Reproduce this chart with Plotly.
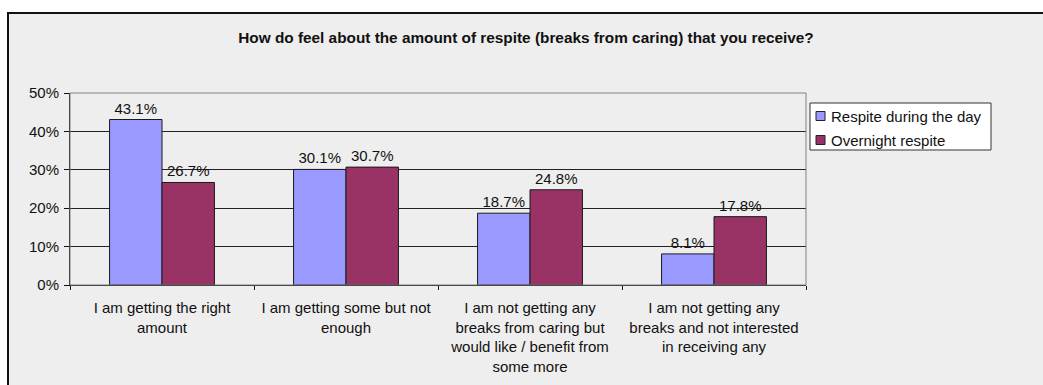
import plotly.graph_objects as go

# Survey answers (x categories) and the two respite series, in percent
categories = [
    "I am getting the right<br>amount",
    "I am getting some but not<br>enough",
    "I am not getting any<br>breaks from caring but<br>would like / benefit from<br>some more",
    "I am not getting any<br>breaks and not interested<br>in receiving any",
]
day_respite = [43.1, 30.1, 18.7, 8.1]
overnight_respite = [26.7, 30.7, 24.8, 17.8]
series_names = ["Respite during the day", "Overnight respite"]
y_ticks = [0, 10, 20, 30, 40, 50]
y_tick_labels = ["0%", "10%", "20%", "30%", "40%", "50%"]
title_text = "How do feel about the amount of respite (breaks from caring) that you receive?"

FONT = "Liberation Sans, Arial, sans-serif"
BLUE = "#9999FF"
PLUM = "#993366"
series_colors = [BLUE, PLUM]

W, H = 1043, 385
L, R, T, B = 70, 237, 93, 100
pw, ph = W - L - R, H - T - B


def px_x(x):
    return (x - L) / pw


def px_y(y):
    return 1 - (y - T) / ph


fig = go.Figure()

for name, vals, col in zip(series_names, [day_respite, overnight_respite], series_colors):
    fig.add_trace(go.Bar(
        x=categories, y=vals, name=name,
        marker=dict(color=col, line=dict(color="#1a1a1a", width=1)),
        texttemplate="%{y:.1f}%", textposition="outside",
        textfont=dict(family=FONT, size=15, color="#111"),
        cliponaxis=False, showlegend=False,
    ))

shapes = [
    # chart frame
    dict(type="rect", xref="paper", yref="paper", layer="below",
         x0=px_x(8), x1=px_x(1060), y0=px_y(400), y1=px_y(13),
         fillcolor="#EEEEEE", line=dict(color="#111", width=2)),
    # plot-area border
    dict(type="rect", xref="paper", yref="paper", layer="above",
         x0=0, x1=1, y0=0, y1=1, line=dict(color="#808080", width=1)),
    # legend box
    dict(type="rect", xref="paper", yref="paper", layer="above",
         x0=px_x(810), x1=px_x(991), y0=px_y(150), y1=px_y(103),
         fillcolor="white", line=dict(color="#333", width=1)),
]
annotations = []
for i, (name, col) in enumerate(zip(series_names, series_colors)):
    cy = 116 + 24 * i
    shapes.append(dict(type="rect", xref="paper", yref="paper", layer="above",
                       x0=px_x(816), x1=px_x(825), y0=px_y(cy + 4.5), y1=px_y(cy - 4.5),
                       fillcolor=col, line=dict(color="#222", width=1)))
    annotations.append(dict(text=name, xref="paper", yref="paper",
                            x=px_x(829), y=px_y(cy), xanchor="left", yanchor="middle",
                            showarrow=False,
                            font=dict(family=FONT, size=15, color="#111")))

fig.update_layout(
    width=W, height=H,
    margin=dict(l=L, r=R, t=T, b=B, pad=0, autoexpand=False),
    paper_bgcolor="white",
    plot_bgcolor="#C0C0C0",
    barmode="group", bargap=0.43, bargroupgap=0,
    font=dict(family=FONT, size=15, color="#111"),
    title=dict(text="<b>" + title_text + "</b>", xref="container", x=526 / W,
               xanchor="center", yref="container", y=1 - 38 / H, yanchor="middle",
               font=dict(family=FONT, size=15.35, color="#111")),
    showlegend=False,
    shapes=shapes,
    annotations=annotations,
    xaxis=dict(
        tickson="boundaries", ticks="outside", ticklen=4, tickcolor="#111",
        showline=True, linecolor="#111", linewidth=1,
        tickfont=dict(family=FONT, size=15, color="#111"),
        ticklabelstandoff=9, automargin=False,
        fixedrange=True,
    ),
    yaxis=dict(
        range=[0, 50], tickvals=y_ticks, ticktext=y_tick_labels,
        ticks="outside", ticklen=5, tickcolor="#111",
        showline=True, linecolor="#111", linewidth=1,
        showgrid=True, gridcolor="#222", gridwidth=1,
        zeroline=False, automargin=False,
        tickfont=dict(family=FONT, size=15, color="#111"),
        ticklabelstandoff=2,
        fixedrange=True,
    ),
)

fig.write_html("out.html")
